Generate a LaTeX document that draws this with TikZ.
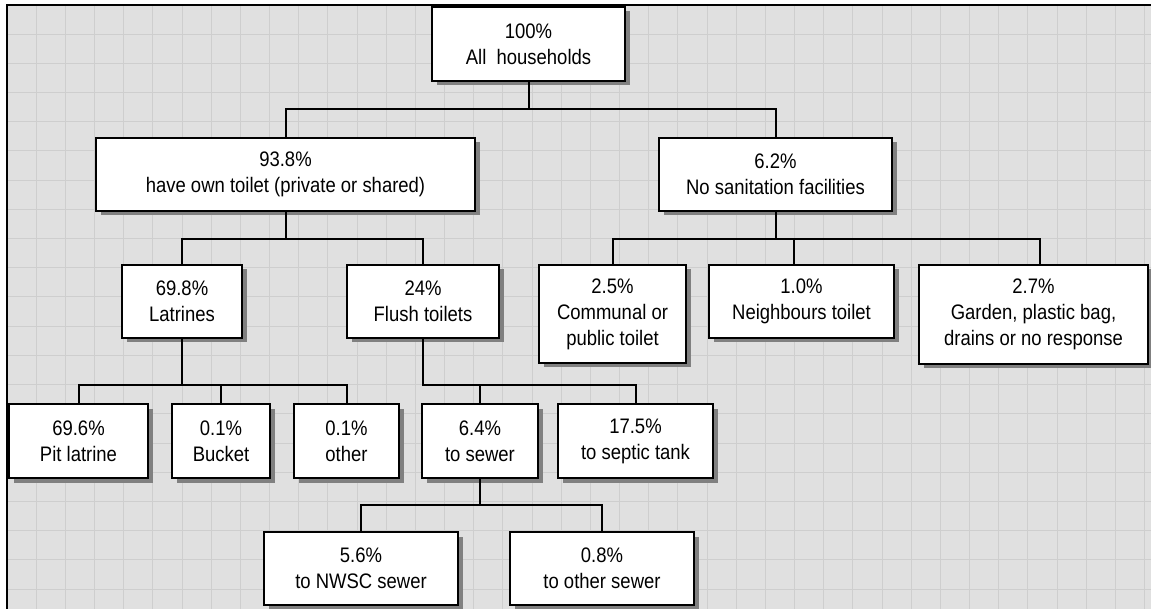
\documentclass[tikz,border=0pt]{standalone}
\usepackage{fontspec}
\setmainfont[FakeStretch=0.88]{Liberation Sans}
\usetikzlibrary{shadows}
\definecolor{PaperGray}{RGB}{224,224,224}
\definecolor{GridGray}{RGB}{206,206,206}
\definecolor{ShadowGray}{RGB}{128,128,128}

\begin{document}
\begin{tikzpicture}[x=1pt,y=-1pt,
    box/.style={draw, line width=1.2pt, fill=white, align=center, inner sep=0pt,
      minimum height=73pt, font={\fontsize{21}{26}\selectfont},
      drop shadow={shadow xshift=4.5pt, shadow yshift=-4.5pt, fill=ShadowGray, opacity=1}},
    link/.style={line width=2pt}]
      \useasboundingbox (0,0) rectangle (1151,609);
      % paper with grid
      \fill[PaperGray] (7,5) rectangle (1151,609);
      \foreach \i in {0,...,39} \draw[GridGray, line width=1pt] ({7+29.17*\i},5) -- ({7+29.17*\i},609);
      \foreach \j in {0,...,20} \draw[GridGray, line width=1pt] (7,{5+29.2*\j}) -- (1151,{5+29.2*\j});
      \draw[line width=2pt] (7,609) -- (7,5) -- (1151,5);
      % boxes
      \node[box, minimum width=193pt, minimum height=74pt] (all) at (528.5,44) {100\%\\All\ \ households};
      \node[box, minimum width=379pt] (own) at (285.5,174.5) {93.8\%\\have own toilet (private or shared)};
      \node[box, minimum width=233pt] (none) at (775.5,174.5) {6.2\%\\No sanitation facilities};
      \node[box, minimum width=120pt] (latr) at (182,301.5) {69.8\%\\Latrines};
      \node[box, minimum width=152pt] (flush) at (423,301.5) {24\%\\Flush toilets};
      \node[box, minimum width=147pt, minimum height=98pt] (comm) at (612.5,314) {2.5\%\\Communal or\\public toilet};
      \node[box, minimum width=185pt] (neigh) at (801.5,301.5) {1.0\%\\Neighbours toilet};
      \node[box, minimum width=229pt, minimum height=99pt] (gard) at (1033.5,314.5) {2.7\%\\Garden, plastic bag,\\drains or no response};
      \node[box, minimum width=139pt, minimum height=74pt] (pit) at (78.5,441) {69.6\%\\Pit latrine};
      \node[box, minimum width=98pt, minimum height=74pt] (bucket) at (221,441) {0.1\%\\Bucket};
      \node[box, minimum width=105pt, minimum height=74pt] (oth) at (346.5,441) {0.1\%\\other};
      \node[box, minimum width=116pt, minimum height=74pt] (sewer) at (480,441) {6.4\%\\to sewer};
      \node[box, minimum width=155pt, minimum height=74pt] (septic) at (635.5,441) {17.5\%\\to septic tank};
      \node[box, minimum width=194pt] (nwsc) at (361,568.5) {5.6\%\\to NWSC sewer};
      \node[box, minimum width=184pt] (othsew) at (602,568.5) {0.8\%\\to other sewer};
      % connectors
      \draw[link] (all.south) -- ++(0,27) -| (own.north);
      \draw[link] (all.south) -- ++(0,27) -| (none.north);
      \draw[link] (own.south) -- ++(0,27) -| (latr.north);
      \draw[link] (own.south) -- ++(0,27) -| (flush.north);
      \draw[link] (none.south) -- ++(0,27.5) -| (comm.north);
      \draw[link] (none.south) -- ++(0,27.5) -| ([xshift=-7.5pt]neigh.north);
      \draw[link] (none.south) -- ++(0,27.5) -| ([xshift=6.5pt]gard.north);
      \draw[link] (latr.south) -- ++(0,46) -| (pit.north);
      \draw[link] (latr.south) -- ++(0,46) -| (bucket.north);
      \draw[link] (latr.south) -- ++(0,46) -| (oth.north);
      \draw[link] (flush.south) -- ++(0,46) -| (sewer.north);
      \draw[link] (flush.south) -- ++(0,46) -| (septic.north);
      \draw[link] (sewer.south) -- ++(0,26) -| (nwsc.north);
      \draw[link] (sewer.south) -- ++(0,26) -| (othsew.north);
    \end{tikzpicture}
\end{document}
